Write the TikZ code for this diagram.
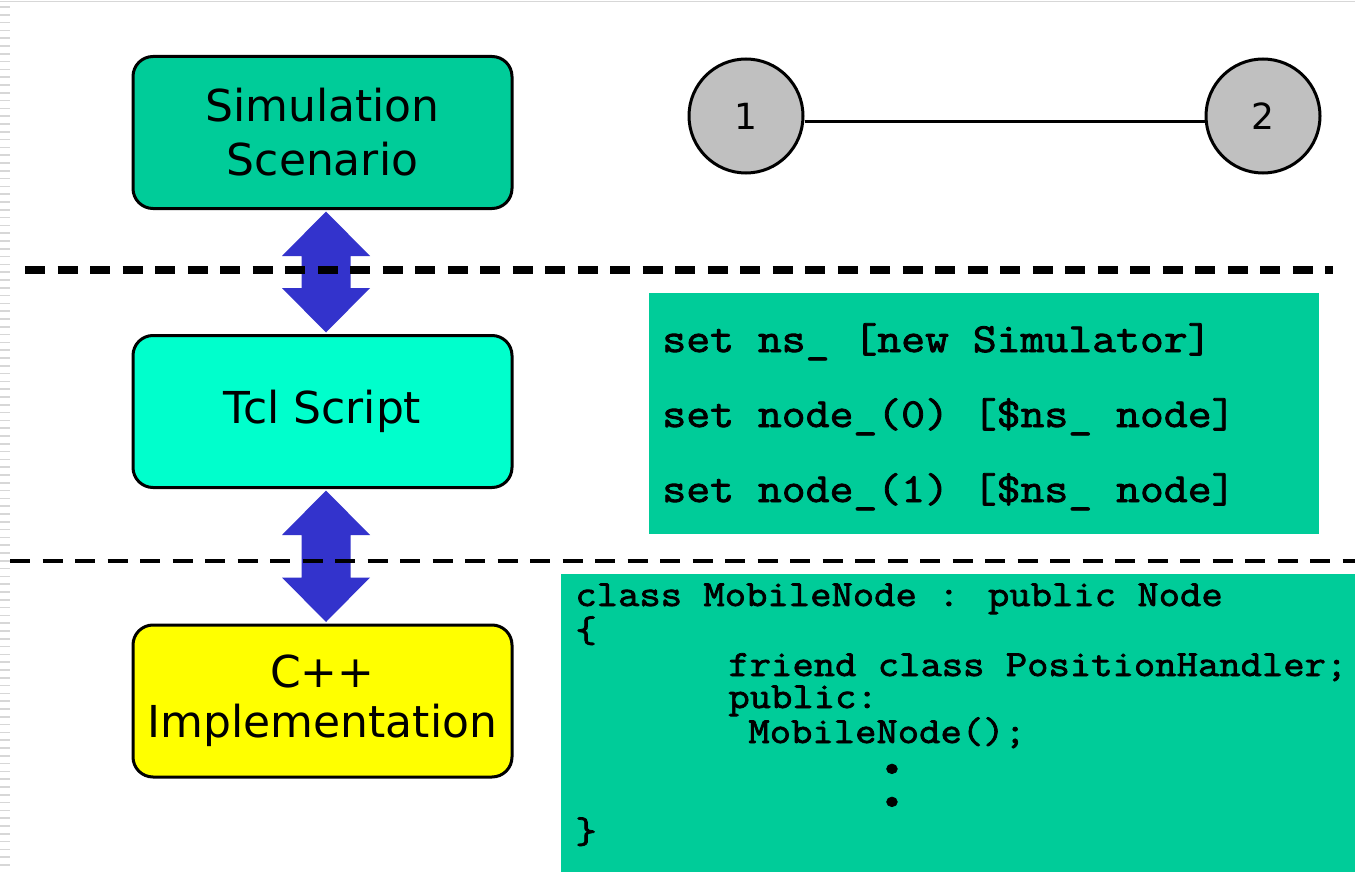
\documentclass[tikz,border=0pt]{standalone}
\usepackage{fontspec}
\setmainfont{DejaVu Sans}
\newfontfamily\codefont[FakeBold=2,FakeStretch=1.12]{Latin Modern Mono}
\usetikzlibrary{calc}
\definecolor{boxgreen}{RGB}{0,204,153}
\definecolor{boxaqua}{RGB}{0,255,204}
\definecolor{boxyellow}{RGB}{255,255,0}
\definecolor{nodegray}{RGB}{192,192,192}
\definecolor{arrowblue}{RGB}{51,51,204}
\definecolor{stripegray}{RGB}{215,215,215}
\begin{document}
\begin{tikzpicture}[x=0.5pt,y=-0.5pt,
  layerbox/.style={draw=black, line width=1.5pt, rounded corners=10pt, minimum width=189.5pt, minimum height=76pt, inner sep=0pt, align=center, text=black},
  codebox/.style={fill=boxgreen, draw=none, inner sep=0pt, anchor=north west},
  codeA/.style={font=\codefont\fontsize{20.7}{20}\selectfont, anchor=base west, inner sep=0pt},
  codeB/.style={font=\codefont\fontsize{18.5}{18}\selectfont, anchor=base west, inner sep=0pt},
  simnode/.style={circle, draw=black, line width=1.5pt, fill=nodegray, minimum size=57pt, inner sep=0pt, font=\fontsize{18}{18}\selectfont},
  layerarrow/.style={fill=arrowblue},
  sepA/.style={dash pattern=on 10pt off 6.25pt, line width=4pt},
  sepB/.style={dash pattern=on 10pt off 6.25pt, line width=2.25pt},
  frameline/.style={draw=stripegray, line width=0.8pt}
]
\useasboundingbox (0,0) rectangle (1355,872);
\fill[white] (0,0) rectangle (1355,872);
% slide frame
\draw[frameline] (0,1.5) -- (1355,1.5);
\foreach \i in {0,...,110} \draw[frameline] (0,{7+7.8*\i}) -- (10,{7+7.8*\i});

% layer boxes
\node[layerbox, fill=boxgreen, font=\fontsize{22}{27}\selectfont] (b1) at (322.5,132.5) {Simulation\\Scenario};
\node[layerbox, fill=boxaqua, font=\fontsize{22}{27}\selectfont] (b2) at (322.5,411.5) {Tcl Script};
\node[layerbox, fill=boxyellow, font=\fontsize{22}{25}\selectfont] (b3) at (322.5,701) {C++\\Implementation};

% double arrows
\fill[layerarrow] ($(b1.south)+(3.5,1.5)$) -- ($(b1.south)+(47.5,46)$) -- ($(b1.south)+(28,46)$)
  -- ($(b2.north)+(28,-46)$) -- ($(b2.north)+(47.5,-46)$) -- ($(b2.north)+(3.5,-1.5)$)
  -- ($(b2.north)+(-40.5,-46)$) -- ($(b2.north)+(-21,-46)$)
  -- ($(b1.south)+(-21,46)$) -- ($(b1.south)+(-40.5,46)$) -- cycle;
\fill[layerarrow] ($(b2.south)+(3.5,1.5)$) -- ($(b2.south)+(47.5,46)$) -- ($(b2.south)+(28,46)$)
  -- ($(b3.north)+(28,-46)$) -- ($(b3.north)+(47.5,-46)$) -- ($(b3.north)+(3.5,-1.5)$)
  -- ($(b3.north)+(-40.5,-46)$) -- ($(b3.north)+(-21,-46)$)
  -- ($(b2.south)+(-21,46)$) -- ($(b2.south)+(-40.5,46)$) -- cycle;

% separators
\draw[sepA] (25,270) -- (1333,270);
\draw[sepB] (10,561) -- (1355,561);

% topology
\node[simnode] (n1) at (746,116) {1};
\node[simnode] (n2) at (1263,116) {2};
\draw[line width=1.5pt] ([yshift=-3pt]n1.east) -- ([yshift=-3pt]n2.west);

% Tcl code
\node[codebox, minimum width=335pt, minimum height=120.5pt] (c1) at (649,293) {};
\node[codeA] (t1) at (662,352) {set ns\_ [new Simulator]};
\node[codeA] (t2) at (662,427) {set node\_(0) [\$ns\_ node]};
\node[codeA] (t3) at (662,502) {set node\_(1) [\$ns\_ node]};

% C++ code
\node[codebox, minimum width=397pt, minimum height=149pt] (c2) at (561,574) {};
\node[codeB] (u1) at (575,606) {class MobileNode : public Node};
\node[codeB] (u2) at (575,642) {\{};
\node[codeB] (u3) at (728,676) {friend class PositionHandler;};
\node[codeB] (u4) at (728,708) {public:};
\node[codeB] (u5) at (748,743) {MobileNode();};
\node[codeB, anchor=center] (u6) at (892,771) {\textbullet};
\node[codeB, anchor=center] (u7) at (892,804) {\textbullet};
\node[codeB] (u8) at (575,843) {\}};
\end{tikzpicture}
\end{document}
